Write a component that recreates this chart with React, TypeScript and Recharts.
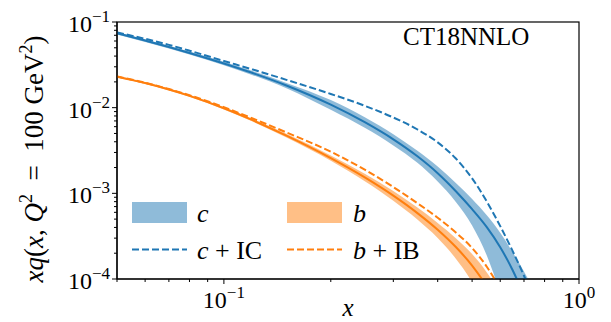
import React from 'react';
import { ComposedChart, Line, Area, XAxis, YAxis, Customized } from 'recharts';

const FONT = '"Liberation Serif", "Times New Roman", "DejaVu Serif", serif';
const BLUE = '#1f77b4';
const ORANGE = '#ff7f0e';

// momentum fraction x
const xs = [0.05, 0.06, 0.07, 0.08, 0.1, 0.12, 0.15, 0.2, 0.25, 0.3, 0.35, 0.4, 0.45, 0.5, 0.55, 0.6, 0.65, 0.7, 0.75];

// charm
const cCentral = [0.07396, 0.06067, 0.05105, 0.04355, 0.03281, 0.02553, 0.01816, 0.01084, 0.006714, 0.004266, 0.002723, 0.001718, 0.001059, 0.000653, 0.0004027, 0.0002344, 0.0001274, 0.0000631, 0.0000282];
const cLow = [0.07137, 0.05849, 0.04911, 0.04181, 0.03133, 0.02413, 0.01689, 0.009431, 0.005774, 0.003626, 0.002287, 0.001374, 0.000794, 0.0004217, 0.0001875, 0.0000659, 0.0000183, 0.0000036, 0.00000063];
const cHigh = [0.07655, 0.06285, 0.05299, 0.04529, 0.03429, 0.02693, 0.01943, 0.01225, 0.007654, 0.004906, 0.003159, 0.002062, 0.001324, 0.000859, 0.0005546, 0.0003467, 0.0002061, 0.0001227, 0.0000706];
const cIC = [0.07551, 0.06368, 0.05408, 0.04624, 0.03508, 0.02805, 0.02113, 0.01445, 0.01047, 0.007674, 0.005598, 0.003936, 0.002547, 0.001496, 0.0008017, 0.000414, 0.0002128, 0.0001091, 0.0000547];

// bottom
const bCentral = [0.02301, 0.01936, 0.0163, 0.01374, 0.00984, 0.007194, 0.00471, 0.002576, 0.001524, 0.0009397, 0.0005916, 0.0003758, 0.000236, 0.0001436, 0.0000818, 0.0000427, 0.0000207, 0.00000953, 0.00000416];
const bLow = [0.02243, 0.01888, 0.01588, 0.01337, 0.009545, 0.006942, 0.004475, 0.002396, 0.001372, 0.0008175, 0.0004969, 0.0003006, 0.0001723, 0.0000919, 0.0000442, 0.0000179, 0.0000062, 0.0000019, 0.0000004];
const bHigh = [0.02359, 0.01984, 0.01672, 0.01411, 0.01014, 0.007446, 0.004946, 0.002756, 0.001676, 0.001062, 0.0006863, 0.000451, 0.0002997, 0.0001953, 0.0001194, 0.0000675, 0.0000352, 0.0000172, 0.0000079];
const bIB = [0.02317, 0.01954, 0.01648, 0.01396, 0.01012, 0.007534, 0.00514, 0.003062, 0.001875, 0.001183, 0.000771, 0.0005188, 0.0003491, 0.0002301, 0.000139, 0.0000759, 0.0000378, 0.0000177, 0.00000793];

// ticks
const xTicks = [0.05, 0.06, 0.07, 0.08, 0.09, 0.1, 0.2, 0.3, 0.4, 0.5, 0.6, 0.7, 0.8, 0.9, 1];
const xMajor = [0.1, 1];
const xMajorExp = ['\u22121', '0'];
const yTicks = [
  0.0001, 0.0002, 0.0003, 0.0004, 0.0005, 0.0006, 0.0007, 0.0008, 0.0009,
  0.001, 0.002, 0.003, 0.004, 0.005, 0.006, 0.007, 0.008, 0.009,
  0.01, 0.02, 0.03, 0.04, 0.05, 0.06, 0.07, 0.08, 0.09,
  0.1,
];
const yMajor = [0.0001, 0.001, 0.01, 0.1];
const yMajorExp = ['\u22124', '\u22123', '\u22122', '\u22121'];

const data = xs.map((x, i) => ({
  x,
  c: cCentral[i],
  cBand: [cLow[i], cHigh[i]],
  cIC: cIC[i],
  b: bCentral[i],
  bBand: [bLow[i], bHigh[i]],
  bIB: bIB[i],
}));

const findMajor = (arr: number[], v: number) => arr.findIndex((m) => Math.abs(m - v) / m < 1e-6);
const txt: React.CSSProperties = { fontFamily: FONT };

const XTick = (props: any) => {
  const { x, y, payload } = props;
  const idx = findMajor(xMajor, payload.value);
  const major = idx >= 0;
  return (
    <g>
      <line x1={x} x2={x} y1={y} y2={y + (major ? 5 : 3)} stroke="#000" strokeWidth={1} />
      {major && (
        <text x={x} y={y + 29} textAnchor="middle" style={txt} fontSize={24} fill="#000">
          10<tspan dy={-10} fontSize={17}>{xMajorExp[idx]}</tspan>
        </text>
      )}
    </g>
  );
};

const YTick = (props: any) => {
  const { x, y, payload } = props;
  const idx = findMajor(yMajor, payload.value);
  const major = idx >= 0;
  return (
    <g>
      <line x1={x} x2={x - (major ? 5 : 3)} y1={y} y2={y} stroke="#000" strokeWidth={1} />
      {major && (
        <text x={x - 7} y={y + 10} textAnchor="end" style={txt} fontSize={24} fill="#000">
          10<tspan dy={-10} fontSize={17}>{yMajorExp[idx]}</tspan>
        </text>
      )}
    </g>
  );
};

const Overlay = () => (
  <g style={txt} fill="#000">
    <rect x={117} y={22} width={462} height={257} fill="none" stroke="#000" strokeWidth={1.2} />
    <text x={403} y={45} fontSize={25} style={txt}>CT18NNLO</text>
    {/* legend */}
    <rect x={132} y={202} width={55} height={21} fill={BLUE} fillOpacity={0.5} />
    <line x1={132} x2={187} y1={249.5} y2={249.5} stroke={BLUE} strokeWidth={2} strokeDasharray="7 3" />
    <rect x={287} y={202} width={55} height={21} fill={ORANGE} fillOpacity={0.5} />
    <line x1={287} x2={342} y1={249.5} y2={249.5} stroke={ORANGE} strokeWidth={2} strokeDasharray="7 3" />
    <text x={197} y={222} fontSize={26} fontStyle="italic" style={txt}>c</text>
    <text x={197} y={259} fontSize={26} style={txt}>
      <tspan fontStyle="italic">c</tspan> + IC
    </text>
    <text x={353} y={222} fontSize={26} fontStyle="italic" style={txt}>b</text>
    <text x={353} y={259} fontSize={26} style={txt}>
      <tspan fontStyle="italic">b</tspan> + IB
    </text>
    {/* axis labels */}
    <text x={348} y={316} fontSize={25} fontStyle="italic" textAnchor="middle" style={txt}>x</text>
    <text transform="translate(43,159) rotate(-90)" fontSize={27} textAnchor="middle" style={txt}>
      <tspan fontStyle="italic">xq</tspan>(<tspan fontStyle="italic">x</tspan>, <tspan fontStyle="italic">Q</tspan>
      <tspan dy={-11} fontSize={18}>2</tspan>
      <tspan dy={11}>{'\u2002=\u2002100 GeV'}</tspan>
      <tspan dy={-11} fontSize={18}>2</tspan>
      <tspan dy={11}>)</tspan>
    </text>
  </g>
);

export default function App() {
  return (
    <div style={{ position: 'absolute', left: 0, top: 0, width: 611, height: 322, background: '#fff' }}>
      <ComposedChart width={611} height={322} data={data} margin={{ top: 22, right: 32, left: 0, bottom: 0 }}>
        <XAxis
          dataKey="x"
          type="number"
          scale="log"
          domain={[0.05, 1]}
          allowDataOverflow
          ticks={xTicks}
          interval={0}
          tickLine={false}
          tickSize={0}
          tickMargin={0}
          tick={<XTick />}
          height={43}
          axisLine={{ stroke: '#000', strokeWidth: 1.2 }}
        />
        <YAxis
          type="number"
          scale="log"
          domain={[0.0001, 0.1]}
          allowDataOverflow
          ticks={yTicks}
          interval={0}
          tickLine={false}
          tickSize={0}
          tickMargin={0}
          tick={<YTick />}
          width={117}
          axisLine={{ stroke: '#000', strokeWidth: 1.2 }}
        />
        <Area dataKey="cBand" type="monotone" fill={BLUE} fillOpacity={0.5} stroke="none" isAnimationActive={false} />
        <Area dataKey="bBand" type="monotone" fill={ORANGE} fillOpacity={0.5} stroke="none" isAnimationActive={false} />
        <Line dataKey="c" type="monotone" stroke={BLUE} strokeWidth={2} dot={false} isAnimationActive={false} />
        <Line dataKey="cIC" type="monotone" stroke={BLUE} strokeWidth={2} strokeDasharray="7 3" dot={false} isAnimationActive={false} />
        <Line dataKey="b" type="monotone" stroke={ORANGE} strokeWidth={2} dot={false} isAnimationActive={false} />
        <Line dataKey="bIB" type="monotone" stroke={ORANGE} strokeWidth={2} strokeDasharray="7 3" dot={false} isAnimationActive={false} />
        <Customized component={Overlay} />
      </ComposedChart>
    </div>
  );
}
